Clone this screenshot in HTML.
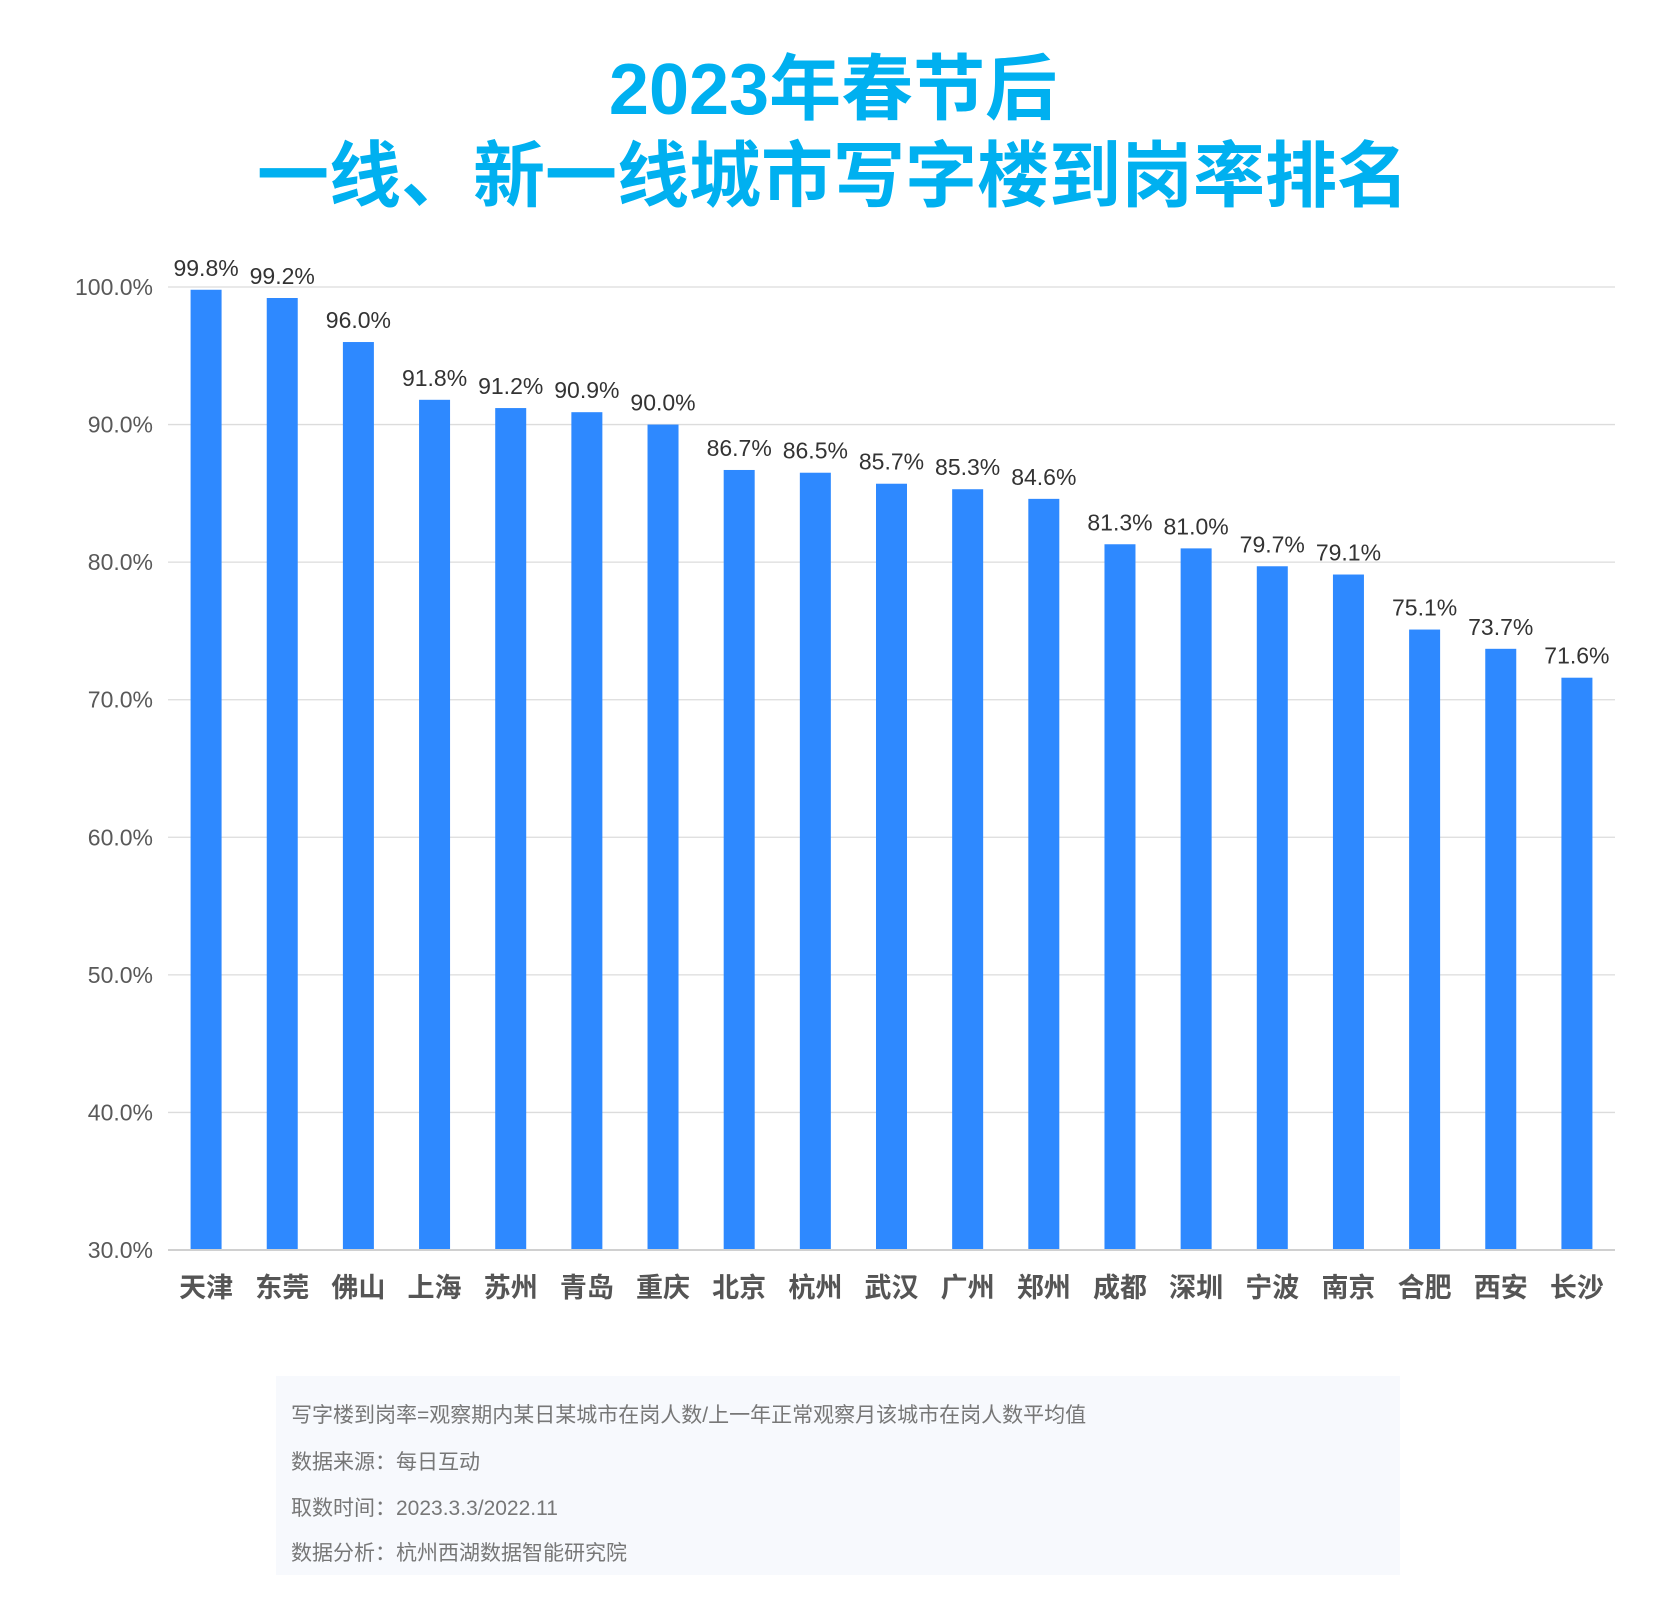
<!DOCTYPE html>
<html><head><meta charset="utf-8">
<style>
html,body{margin:0;padding:0;background:#fff;}
body{width:1666px;height:1616px;position:relative;overflow:hidden;font-family:"Liberation Sans","Noto Sans CJK SC",sans-serif;}
.title{position:absolute;left:0;width:1666px;text-align:center;color:#00b0f0;font-weight:bold;font-size:72px;line-height:1;font-family:"Liberation Sans","Noto Sans CJK SC",sans-serif;}
#footer{position:absolute;left:276px;top:1376px;width:1124px;height:199px;background:#f7f9fd;}
.fl{position:absolute;left:15px;font-size:21px;color:#777;white-space:nowrap;}
</style></head><body>
<div class="title" style="top:54px;">2023年春节后</div>
<div class="title" style="top:141px;">一线、新一线城市写字楼到岗率排名</div>
<svg id="chart" width="1666" height="1340" style="position:absolute;left:0;top:0;"></svg>
<div id="footer">
<div class="fl" style="top:23px;">写字楼到岗率=观察期内某日某城市在岗人数/上一年正常观察月该城市在岗人数平均值</div>
<div class="fl" style="top:70px;">数据来源：每日互动</div>
<div class="fl" style="top:116px;">取数时间：2023.3.3/2022.11</div>
<div class="fl" style="top:161px;">数据分析：杭州西湖数据智能研究院</div>
</div>
<script>
const categories=["天津","东莞","佛山","上海","苏州","青岛","重庆","北京","杭州","武汉","广州","郑州","成都","深圳","宁波","南京","合肥","西安","长沙"];
const values=[99.8,99.2,96.0,91.8,91.2,90.9,90.0,86.7,86.5,85.7,85.3,84.6,81.3,81.0,79.7,79.1,75.1,73.7,71.6];
const yTicks=[30,40,50,60,70,80,90,100];
const NS="http://www.w3.org/2000/svg";
const svgEl=document.getElementById('chart');
const plotLeft=168,plotRight=1615,plotTop=287,plotBottom=1250,yMin=30,yMax=100;
const yScale=v=>plotBottom-(v-yMin)/(yMax-yMin)*(plotBottom-plotTop);
const band=(plotRight-plotLeft)/categories.length;
const xScale=i=>plotLeft+band*(i+0.5);
function mk(tag,attrs,text){const e=document.createElementNS(NS,tag);for(const k in attrs)e.setAttribute(k,attrs[k]);if(text!==undefined)e.textContent=text;svgEl.appendChild(e);return e;}
const FF='"Liberation Sans","Noto Sans CJK SC",sans-serif';
yTicks.forEach(t=>{
  const g=mk('line',{x1:plotLeft,x2:plotRight,y1:yScale(t),y2:yScale(t),stroke:t===yMin?'#d0d0d0':'#dcdcdc','stroke-width':t===yMin?2:1.3});
  
  
  const l=mk('text',{x:153,y:yScale(t)+8,'text-anchor':'end','font-size':23,fill:'#595959','font-family':FF},t.toFixed(1)+'%');
  
  
});
const bw=31;
categories.forEach((c,i)=>{
  const v=values[i];
  const r=mk('rect',{x:xScale(i)-bw/2,y:yScale(v),width:bw,height:plotBottom-yScale(v)-1,fill:'#2e89ff'});
  
  
  const vl=mk('text',{x:xScale(i),y:yScale(v)-14,'text-anchor':'middle','font-size':23,fill:'#333','font-family':FF},v.toFixed(1)+'%');
  
  
  const xl=mk('text',{x:xScale(i),y:1297,'text-anchor':'middle','font-size':27,'font-weight':'bold',fill:'#555','font-family':FF},c);
  
  
});
</script>
</body></html>
